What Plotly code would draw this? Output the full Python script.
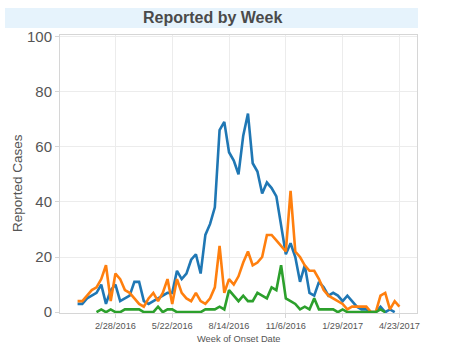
import pandas as pd
import plotly.graph_objects as go

# Weekly counts, weeks beginning Sunday 2016-01-03
week_start = "2016-01-03"
blue_cases = [3, 3, 5, 6, 7, 10, 3, 8, 10, 4,
              5, 6, 11, 11, 4, 3, 4, 5, 6, 7,
              7, 15, 12, 14, 19, 21, 14, 28, 32, 38,
              66, 69, 58, 55, 50, 64, 72, 54, 51, 43,
              47, 45, 42, 32, 21, 25, 20, 11, 17, 7,
              6, 11, 9, 6, 7, 6, 4, 6, 4, 2,
              1, 1, 0, 0, 2, 0, 1, 0]
orange_cases = [4, 4, 6, 8, 9, 12, 17, 4, 14, 12,
                8, 7, 5, 3, 2, 5, 7, 4, 7, 12,
                3, 12, 7, 5, 4, 7, 4, 3, 5, 9,
                24, 7, 12, 10, 13, 18, 22, 17, 18, 20,
                28, 28, 26, 24, 22, 44, 22, 20, 17, 15,
                15, 12, 8, 6, 5, 4, 3, 1, 2, 2,
                2, 2, 0, 0, 6, 7, 1, 4, 2]
green_first_week = 4
green_cases = [0, 1, 0, 1, 0, 0, 1, 1, 1, 1,
               0, 0, 0, 2, 0, 1, 1, 0, 0, 0,
               0, 0, 0, 1, 1, 1, 2, 1, 8, 6,
               4, 6, 4, 4, 7, 6, 5, 9, 8, 17,
               5, 4, 3, 1, 2, 1, 5, 1, 1, 1,
               1, 0, 1, 0, 0, 0, 0, 0, 0, 0,
               1, 0]

tick_dates = ["2016-02-28", "2016-05-22", "2016-08-14",
              "2016-11-06", "2017-01-29", "2017-04-23"]
tick_labels = ["2/28/2016", "5/22/2016", "8/14/2016",
               "11/6/2016", "1/29/2017", "4/23/2017"]
y_ticks = [0, 20, 40, 60, 80, 100]

weeks = pd.date_range(week_start, periods=len(orange_cases), freq="7D")

fig = go.Figure()
series = [
    (weeks[:len(blue_cases)], blue_cases, "#1f77b4"),
    (weeks[:len(orange_cases)], orange_cases, "#ff7f0e"),
    (weeks[green_first_week:green_first_week + len(green_cases)], green_cases, "#2ca02c"),
]
for xs, ys, color in series:
    fig.add_trace(go.Scatter(x=xs, y=ys, mode="lines",
                             line=dict(color=color, width=2.6),
                             showlegend=False))

W, H = 450, 349
L, R, T, B = 60, 417, 35, 313

fig.update_layout(
    width=W, height=H,
    margin=dict(l=L, r=W - R, t=T, b=H - B),
    paper_bgcolor="white", plot_bgcolor="white",
    font=dict(family="Liberation Sans, Arial, sans-serif", color="#555"),
    showlegend=False,
)
fig.update_xaxes(
    type="date",
    range=["2015-12-08", "2017-05-19"],
    tickvals=tick_dates, ticktext=tick_labels,
    tickfont=dict(size=9.2, color="#555"),
    showgrid=True, gridcolor="#ececec", gridwidth=1,
    showline=True, linecolor="#d6d6d6", linewidth=1, mirror=True,
    ticks="outside", ticklen=4, tickcolor="#d6d6d6",
    zeroline=False,
)
fig.update_yaxes(
    range=[-0.3, 100.5],
    tickvals=y_ticks,
    tickfont=dict(size=15, color="#555"),
    showgrid=True, gridcolor="#ececec", gridwidth=1,
    showline=True, linecolor="#d6d6d6", linewidth=1, mirror=True,
    ticks="outside", ticklen=4, tickcolor="#d6d6d6",
    zeroline=False,
)

# Title band
fig.add_shape(type="rect", xref="paper", yref="paper",
              x0=(5 - L) / (R - L), x1=(418 - L) / (R - L),
              y0=(B - 28) / (B - T), y1=(B - 8) / (B - T),
              fillcolor="#e6f3fc", line=dict(width=0), layer="below")
fig.add_annotation(text="<b>Reported by Week</b>", xref="paper", yref="paper",
                   x=(212 - L) / (R - L), y=(B - 18) / (B - T),
                   showarrow=False, xanchor="center", yanchor="middle",
                   font=dict(size=16, color="#4a4a4a"))
fig.add_annotation(text="Reported Cases", xref="paper", yref="paper",
                   x=(17 - L) / (R - L), y=(B - 183) / (B - T),
                   textangle=-90, showarrow=False,
                   xanchor="center", yanchor="middle",
                   font=dict(size=13.5, color="#555"))
fig.add_annotation(text="Week of Onset Date", xref="paper", yref="paper",
                   x=(239 - L) / (R - L), y=(B - 339) / (B - T),
                   showarrow=False, xanchor="center", yanchor="middle",
                   font=dict(size=9.3, color="#555"))

fig.write_html("out.html")
